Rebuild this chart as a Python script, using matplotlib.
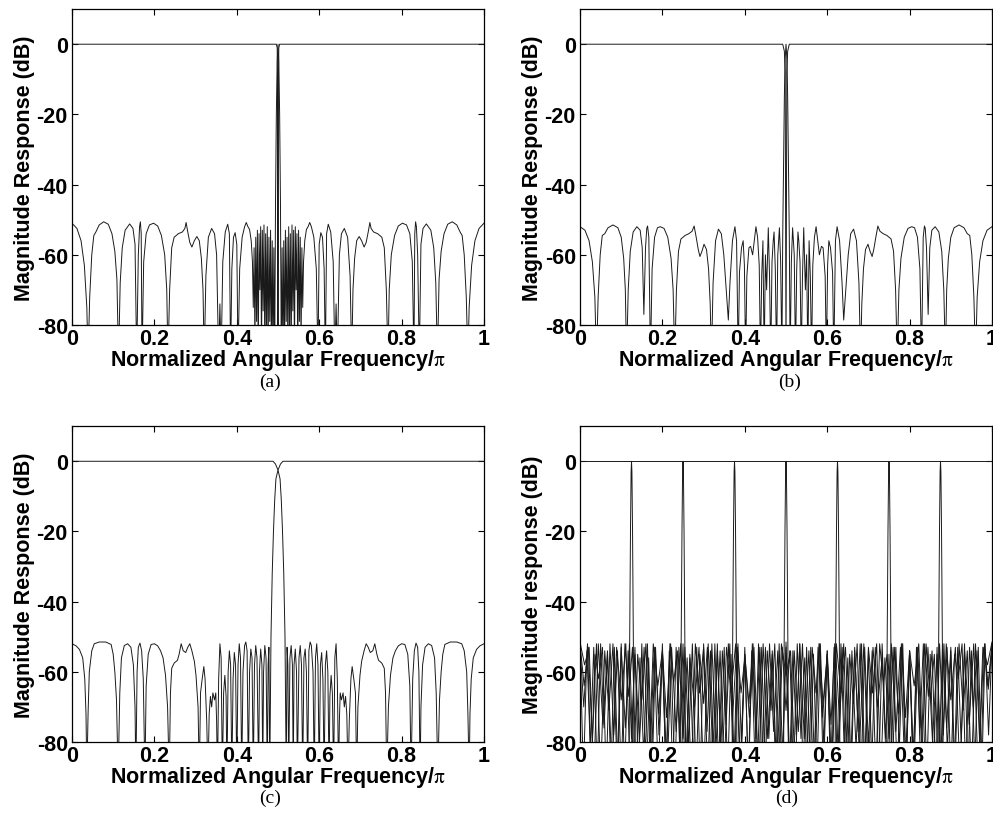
import matplotlib
matplotlib.use('Agg')
import matplotlib.pyplot as plt
import numpy as np

plt.rcParams['font.family'] = ['Liberation Sans', 'DejaVu Sans']
plt.rcParams['mathtext.fontset'] = 'stix'
plt.rcParams['axes.unicode_minus'] = False

# ---- panel (a): narrow band-pass at 0.5 pi and its complementary notch ----
f_a = [0.000, 0.012, 0.022, 0.030, 0.036, 0.039, 0.043, 0.048, 0.053, 0.058,
       0.066, 0.077, 0.088, 0.097, 0.104, 0.109, 0.113, 0.117, 0.122, 0.129,
       0.140, 0.148, 0.153, 0.157, 0.161, 0.164, 0.166, 0.168, 0.170, 0.174,
       0.180, 0.188, 0.198, 0.208, 0.217, 0.225, 0.230, 0.233, 0.237, 0.242,
       0.248, 0.258, 0.268, 0.274, 0.277, 0.281, 0.286, 0.291, 0.297, 0.303,
       0.309, 0.314, 0.318, 0.321, 0.325, 0.331, 0.339, 0.346, 0.351, 0.356,
       0.359, 0.362, 0.366, 0.372, 0.378, 0.382, 0.385, 0.388, 0.392, 0.396,
       0.400, 0.403, 0.407, 0.413, 0.419, 0.423, 0.427, 0.431, 0.435, 0.438,
       0.440, 0.442, 0.444, 0.446, 0.448, 0.450, 0.452, 0.454, 0.456, 0.458,
       0.460, 0.462, 0.464, 0.466, 0.468, 0.470, 0.472, 0.474, 0.476, 0.478,
       0.480, 0.482, 0.484, 0.486, 0.488, 0.490, 0.492, 0.494, 0.496, 0.498,
       0.500,
       0.502, 0.504, 0.506, 0.508, 0.510, 0.512, 0.514, 0.516, 0.518, 0.520,
       0.522, 0.524, 0.526, 0.528, 0.530, 0.532, 0.534, 0.536, 0.538, 0.540,
       0.542, 0.544, 0.546, 0.548, 0.550, 0.552, 0.554, 0.556, 0.558, 0.560,
       0.562, 0.565, 0.569, 0.573, 0.577, 0.581, 0.587, 0.593, 0.597, 0.600,
       0.604, 0.608, 0.612, 0.615, 0.618, 0.622, 0.628, 0.634, 0.638, 0.641,
       0.644, 0.649, 0.654, 0.661, 0.669, 0.675, 0.679, 0.682, 0.686, 0.691,
       0.697, 0.703, 0.709, 0.714, 0.719, 0.723, 0.726, 0.732, 0.742, 0.752,
       0.758, 0.763, 0.767, 0.770, 0.775, 0.783, 0.792, 0.802, 0.812, 0.820,
       0.826, 0.830, 0.832, 0.834, 0.836, 0.839, 0.843, 0.847, 0.852, 0.860,
       0.871, 0.878, 0.883, 0.887, 0.891, 0.896, 0.903, 0.912, 0.923, 0.934,
       0.942, 0.947, 0.952, 0.957, 0.961, 0.964, 0.970, 0.978, 0.988, 1.000]
db_a = [-51.0, -52.5, -56, -63, -75, -90, -72, -60, -54.5, -53.5,
        -51.5, -50.6, -51.3, -54, -59, -67, -90, -68, -58, -53,
        -51.2, -52.5, -57, -90, -60, -52, -50.6, -54, -90, -62,
        -54, -51.5, -51.0, -51.8, -54.5, -60, -70, -90, -70, -58,
        -55, -54, -53.5, -52.5, -50.8, -53.5, -56.5, -57.8, -56, -54.8,
        -56, -61, -70, -90, -66, -55, -52.5, -54, -60, -90,
        -74, -90, -62, -53.5, -51.3, -54, -90, -64, -55, -53.7,
        -57, -90, -64, -55, -52, -50.8, -52, -52.8, -56, -62,
        -75, -58, -86, -55, -79, -53, -90, -54, -70, -52,
        -88, -53, -76, -51.5, -90, -54, -82, -52, -90, -55,
        -79, -53, -90, -56, -90, -58, -90, -45, -20, -5,
        0,
        -5, -20, -45, -90, -58, -90, -56, -90, -53, -79,
        -55, -90, -52, -82, -54, -90, -51.5, -76, -53, -88,
        -52, -70, -54, -90, -53, -79, -55, -86, -58, -75,
        -62, -56, -52.8, -52, -50.8, -52, -55, -64, -90, -57,
        -53.7, -55, -64, -90, -54, -51.3, -53.5, -62, -90, -74,
        -90, -60, -54, -52.5, -55, -66, -90, -70, -61, -56,
        -54.8, -56, -57.8, -56.5, -53.5, -50.8, -52.5, -53.5, -54, -55,
        -58, -70, -90, -70, -60, -54.5, -51.8, -51.0, -51.5, -54,
        -62, -90, -54, -50.6, -52, -60, -90, -57, -52.5, -51.2,
        -53, -58, -68, -90, -67, -59, -54, -51.3, -50.6, -51.5,
        -53.5, -54.5, -60, -72, -90, -75, -63, -56, -52.5, -51.0]
notch_f_a = [0.0, 0.496, 0.498, 0.499, 0.500, 0.501, 0.502, 0.504, 1.0]
notch_db_a = [0, 0, -1, -10, -90, -10, -1, 0, 0]

# ---- panel (b): wider band-pass ----
f_b = [0.000, 0.012, 0.022, 0.030, 0.036, 0.040, 0.044, 0.049, 0.054, 0.060,
       0.068, 0.080, 0.092, 0.100, 0.106, 0.110, 0.113, 0.117, 0.122, 0.129,
       0.138, 0.146, 0.151, 0.155, 0.159, 0.162, 0.164, 0.167, 0.171, 0.175,
       0.181, 0.188, 0.195, 0.204, 0.213, 0.221, 0.226, 0.230, 0.234, 0.239,
       0.245, 0.255, 0.264, 0.272, 0.277, 0.282, 0.287, 0.291, 0.296, 0.301,
       0.307, 0.312, 0.316, 0.319, 0.323, 0.329, 0.336, 0.343, 0.349, 0.355,
       0.360, 0.364, 0.370, 0.376, 0.380, 0.384, 0.387, 0.392, 0.396, 0.399,
       0.402, 0.405, 0.410, 0.414, 0.419, 0.423, 0.427, 0.431, 0.435, 0.438,
       0.441, 0.444, 0.447, 0.450, 0.453, 0.457, 0.460, 0.463, 0.466, 0.469,
       0.471, 0.474, 0.477, 0.480, 0.484, 0.487, 0.490, 0.492, 0.494, 0.496,
       0.498, 0.500, 0.502, 0.504, 0.506, 0.508, 0.510,
       0.513, 0.516, 0.520, 0.523, 0.526, 0.529, 0.531, 0.534, 0.537, 0.540,
       0.543, 0.547, 0.550, 0.553, 0.556, 0.559, 0.562, 0.565, 0.569, 0.573,
       0.577, 0.581, 0.586, 0.590, 0.595, 0.598, 0.601, 0.604, 0.608, 0.613,
       0.616, 0.620, 0.624, 0.630, 0.636, 0.640, 0.645, 0.651, 0.657, 0.664,
       0.671, 0.677, 0.681, 0.684, 0.688, 0.693, 0.699, 0.704, 0.709, 0.713,
       0.718, 0.723, 0.728, 0.736, 0.745, 0.755, 0.761, 0.766, 0.770, 0.774,
       0.779, 0.787, 0.796, 0.805, 0.812, 0.819, 0.825, 0.829, 0.833, 0.836,
       0.838, 0.841, 0.845, 0.849, 0.854, 0.862, 0.871, 0.878, 0.883, 0.887,
       0.890, 0.894, 0.900, 0.908, 0.920, 0.932, 0.940, 0.946, 0.951, 0.956,
       0.960, 0.964, 0.970, 0.978, 0.988, 1.000]
db_b = [-52, -53, -56, -62, -72, -90, -72, -60, -54.5, -54,
        -52.3, -51.5, -52.3, -55, -61, -70, -90, -70, -59, -53.5,
        -52, -53, -58, -77, -58, -52.5, -51.8, -55, -90, -64,
        -55, -52.3, -52, -52.5, -55, -61, -70, -90, -70, -59,
        -55.5, -54.5, -54, -53.3, -51.8, -55, -58.5, -60.5, -59, -57,
        -58.5, -64, -74, -90, -68, -56, -52.7, -54, -60, -70,
        -78.6, -68, -56, -52, -56, -90, -65, -58, -56, -63,
        -90, -66, -58, -57.6, -60, -56, -52, -55, -63, -90,
        -66, -56, -90, -60, -70, -52.3, -66, -90, -62, -56,
        -53.5, -64, -90, -60, -52.3, -62, -90, -55, -35, -15,
        -4, 0, -4, -15, -35, -55, -90,
        -62, -52.3, -60, -90, -64, -53.5, -56, -62, -90, -66,
        -52.3, -70, -60, -90, -56, -66, -90, -63, -55, -52,
        -56, -60, -57.6, -58, -66, -90, -63, -56, -58, -65,
        -90, -56, -52, -56, -68, -78.6, -70, -60, -54, -52.7,
        -56, -68, -90, -74, -64, -58.5, -57, -59, -60.5, -58.5,
        -55, -51.8, -53.3, -54, -54.5, -55.5, -59, -70, -90, -70,
        -61, -55, -52.5, -52, -52.3, -55, -64, -90, -55, -51.8,
        -52.5, -58, -77, -58, -53, -52, -53.5, -59, -70, -90,
        -70, -61, -55, -52.3, -51.5, -52.3, -54, -54.5, -60, -72,
        -90, -72, -62, -56, -53, -52]
notch_f_b = [0.0, 0.492, 0.496, 0.498, 0.500, 0.502, 0.504, 0.508, 1.0]
notch_db_b = [0, 0, -2, -8, -90, -8, -2, 0, 0]

# ---- panel (c): widest band-pass, crossing the notch near -3 dB ----
f_c = [0.000, 0.010, 0.018, 0.026, 0.031, 0.034, 0.036, 0.039, 0.042, 0.048,
       0.054, 0.066, 0.082, 0.095, 0.100, 0.104, 0.108, 0.112, 0.116, 0.120,
       0.127, 0.135, 0.143, 0.149, 0.153, 0.155, 0.158, 0.161, 0.165, 0.169,
       0.173, 0.177, 0.180, 0.185, 0.192, 0.200, 0.208, 0.215, 0.221, 0.227,
       0.232, 0.236, 0.239, 0.242, 0.248, 0.256, 0.260, 0.265, 0.270, 0.276,
       0.281, 0.286, 0.291, 0.297, 0.301, 0.306, 0.309, 0.312, 0.316, 0.320,
       0.323, 0.327, 0.330, 0.333, 0.336, 0.339, 0.342, 0.346, 0.349, 0.351,
       0.353, 0.356, 0.359, 0.362, 0.365, 0.368, 0.371, 0.374, 0.376, 0.379,
       0.382, 0.385, 0.388, 0.391, 0.394, 0.397, 0.400, 0.403, 0.406, 0.409,
       0.412, 0.415, 0.419, 0.422, 0.425, 0.428, 0.431, 0.434, 0.437, 0.440,
       0.443, 0.446, 0.449, 0.453, 0.455, 0.458, 0.461, 0.463, 0.465, 0.468,
       0.471, 0.474, 0.476, 0.478, 0.480,
       0.483, 0.486, 0.489, 0.492, 0.495, 0.500, 0.505, 0.508, 0.511, 0.514,
       0.517, 0.520,
       0.522, 0.524, 0.526, 0.529, 0.532, 0.535, 0.537, 0.539, 0.542, 0.545,
       0.547, 0.551, 0.554, 0.557, 0.560, 0.563, 0.566, 0.569, 0.572, 0.575,
       0.578, 0.581, 0.585, 0.588, 0.591, 0.594, 0.597, 0.600, 0.603, 0.606,
       0.609, 0.612, 0.615, 0.618, 0.621, 0.624, 0.626, 0.629, 0.632, 0.635,
       0.638, 0.641, 0.644, 0.647, 0.649, 0.651, 0.654, 0.658, 0.661, 0.664,
       0.667, 0.670, 0.673, 0.677, 0.680, 0.684, 0.688, 0.691, 0.694, 0.699,
       0.703, 0.709, 0.714, 0.719, 0.724, 0.730, 0.735, 0.740, 0.744, 0.752,
       0.758, 0.761, 0.764, 0.768, 0.773, 0.779, 0.785, 0.792, 0.800, 0.808,
       0.815, 0.820, 0.823, 0.827, 0.831, 0.835, 0.839, 0.842, 0.845, 0.847,
       0.851, 0.857, 0.865, 0.873, 0.880, 0.884, 0.888, 0.892, 0.896, 0.900,
       0.905, 0.918, 0.934, 0.946, 0.952, 0.958, 0.961, 0.964, 0.966, 0.969,
       0.974, 0.982, 0.990, 1.000]
db_c = [-52, -52.6, -53.6, -56, -62, -72, -90, -72, -60, -54,
        -52, -51.5, -51.5, -52.2, -55, -60, -68, -90, -66, -56,
        -52.5, -52, -53, -58, -70, -90, -60, -53, -51.8, -54,
        -62, -90, -64, -55, -52.2, -52, -52.6, -54, -56, -61,
        -70, -90, -66, -59, -57.5, -56.7, -55, -52, -54, -54.5,
        -53, -52, -54, -57, -61, -70, -90, -66, -62, -58.5,
        -62, -74, -90, -72, -67, -70, -66, -68, -66, -74,
        -90, -62, -52, -56, -90, -66, -61, -67, -90, -60,
        -54, -58, -90, -62, -54.5, -58, -90, -58, -52, -56,
        -90, -60, -52.5, -51.5, -54, -90, -60, -53.5, -56, -90,
        -58, -52.5, -56, -90, -60, -53.5, -58, -90, -60, -52.5,
        -56, -90, -58, -53, -90,
        -50, -32, -20, -11, -5, -2.5, -5, -11, -20, -32,
        -50, -90,
        -53, -58, -90, -56, -52.5, -58, -90, -58, -53.5, -60,
        -90, -56, -52.5, -58, -90, -56, -53.5, -60, -90, -54,
        -51.5, -52.5, -60, -90, -56, -52, -58, -90, -58, -54.5,
        -62, -90, -58, -54, -60, -90, -67, -61, -66, -90,
        -56, -52, -62, -90, -74, -66, -68, -66, -70, -67,
        -72, -90, -74, -62, -58.5, -62, -66, -90, -70, -61,
        -57, -54, -52, -53, -54.5, -54, -52, -55, -56.7, -57.5,
        -59, -66, -90, -70, -61, -56, -54, -52.6, -52, -52.2,
        -55, -64, -90, -62, -54, -51.8, -53, -60, -90, -70,
        -58, -53, -52, -52.5, -56, -66, -90, -68, -60, -55,
        -52.2, -51.5, -51.5, -52, -54, -60, -72, -90, -72, -62,
        -56, -53.6, -52.6, -52]
notch_f_c = [0.0, 0.488, 0.494, 0.500, 0.506, 0.512, 1.0]
notch_db_c = [0, 0, -0.8, -2.5, -0.8, 0, 0]

# ---- panel (d): 8-channel bank, pass-band peaks at k/8 ----
peak_d_centers = [0.125, 0.25, 0.375, 0.5, 0.625, 0.75, 0.875]
peak_d_offset = [-0.006, -0.0045, -0.0025, -0.001, 0.0, 0.001, 0.0025, 0.0045, 0.006]
peak_d_db = [-90, -52, -20, -3, 0, -3, -20, -52, -90]
# overlapping stop-band ripple of the channels (evenly sampled over 0..1)
stop_d1 = [-52, -64, -53, -80, -52, -90, -54, -71, -52, -88,
           -53, -76, -52, -90, -55, -68, -52, -85, -53, -90,
           -54, -73, -52, -90, -53, -79, -56, -90, -52, -66,
           -53, -90, -52, -82, -54, -90, -52, -74, -53, -90,
           -55, -69, -52, -90, -53, -86, -52, -77, -54, -90,
           -51.5, -90, -54, -77, -52, -86, -53, -90, -52, -69,
           -55, -90, -53, -74, -52, -90, -54, -82, -52, -90,
           -53, -66, -52, -90, -56, -79, -53, -90, -52, -73,
           -54, -90, -53, -85, -52, -68, -55, -90, -52, -76,
           -53, -88, -52, -71, -54, -90, -52, -80, -53, -64, -52]
stop_d2 = [-53, -70, -52, -90, -55, -62, -53, -90, -52, -78,
           -54, -90, -52, -67, -53, -90, -56, -84, -52, -90,
           -53, -72, -55, -90, -52, -63, -54, -90, -53, -81,
           -52, -90, -55, -69, -53, -90, -52, -87, -54, -75,
           -52, -90, -53, -66, -56, -90, -52, -79, -53, -90,
           -54, -71, -52, -90, -53, -71, -54, -90, -52, -79,
           -56, -90, -53, -66, -52, -90, -54, -75, -52, -87,
           -53, -90, -55, -69, -52, -90, -53, -81, -54, -90,
           -52, -63, -55, -90, -53, -72, -52, -90, -56, -84,
           -53, -90, -52, -67, -54, -90, -52, -78, -53, -90,
           -55, -62, -52, -90, -53, -70, -54, -88, -52, -65, -53]
stop_d3 = [-51.5, -58, -53, -90, -52, -75, -54, -90, -53, -68,
           -52, -90, -55, -80, -53, -90, -52, -64, -54, -90,
           -53, -77, -52, -90, -56, -70, -53, -90, -52, -83,
           -54, -90, -53, -66, -52, -90, -55, -73, -53, -90,
           -52, -79, -54, -90, -52, -61, -54, -90, -52, -79,
           -54, -90, -53, -73, -55, -90, -52, -66, -53, -90,
           -54, -83, -52, -90, -53, -70, -56, -90, -52, -77,
           -53, -90, -54, -64, -52, -90, -53, -80, -55, -90,
           -52, -68, -53, -90, -54, -75, -52, -90, -53, -58, -51.5]
stop_d4 = [-52, -90, -54, -82, -53, -90, -52, -76, -55, -90,
           -53, -88, -52, -90, -54, -79, -53, -90, -52, -84,
           -56, -90, -53, -78, -52, -90, -54, -90, -53, -81,
           -52, -90, -55, -86, -53, -90, -52, -77, -54, -90,
           -52, -83, -53, -90, -55, -90, -52, -80, -53, -90,
           -54, -87, -52, -90, -53, -79, -55, -90, -52, -85,
           -53, -90, -54, -78, -52, -90, -53, -88, -55, -90,
           -52, -81, -54, -90, -53, -90, -52, -84, -56, -90,
           -53, -77, -52, -90, -54, -86, -53, -90, -52, -79,
           -55, -90, -53, -82, -52, -90, -54, -90, -53, -76,
           -52, -90, -55, -88, -53, -90, -52, -83, -54, -90,
           -53, -80, -52, -90, -54, -87, -53, -90, -52, -78, -52]
notch_f_d = [0.0, 1.0]
notch_db_d = [0, 0]

xticks = [0, 0.2, 0.4, 0.6, 0.8, 1]
xtick_labels = ['0', '0.2', '0.4', '0.6', '0.8', '1']
yticks = [-80, -60, -40, -20, 0]

LC = '#1a1a1a'
LW = 0.7
fs = 15.5


def style(ax, ylabel):
  ax.set_xlim(0, 1)
  ax.set_ylim(-80, 10)
  ax.set_xticks(xticks)
  ax.set_xticklabels(xtick_labels)
  ax.set_yticks(yticks)
  ax.tick_params(direction='in', length=4, width=0.8, top=True, right=True,
                 labelsize=fs, pad=3)
  ax.tick_params(axis='x', pad=2)
  for lab in ax.get_xticklabels() + ax.get_yticklabels():
    lab.set_fontweight('bold')
  for sp in ax.spines.values():
    sp.set_linewidth(0.9)
  ax.set_xlabel(r'Normalized Angular Frequency/$\mathrm{\pi}$', fontsize=fs,
                fontweight='bold', labelpad=-1)
  ax.set_ylabel(ylabel, fontsize=fs, fontweight='bold', labelpad=1)


fig = plt.figure(figsize=(9.93, 8.29), dpi=100)
w = 0.4149
h = 0.381
ax_a = fig.add_axes([0.0725, 0.6068, w, h])
ax_b = fig.add_axes([0.5841, 0.6068, w, h])
ax_c = fig.add_axes([0.0725, 0.1037, w, h])
ax_d = fig.add_axes([0.5841, 0.1037, w, h])

ax_a.plot(notch_f_a, notch_db_a, color=LC, lw=LW)
ax_a.plot(f_a, db_a, color=LC, lw=LW)
ax_b.plot(notch_f_b, notch_db_b, color=LC, lw=LW)
ax_b.plot(f_b, db_b, color=LC, lw=LW)
ax_c.plot(notch_f_c, notch_db_c, color=LC, lw=LW)
ax_c.plot(f_c, db_c, color=LC, lw=LW)

ax_d.plot(notch_f_d, notch_db_d, color=LC, lw=LW)
for s in [stop_d1, stop_d2, stop_d3, stop_d4]:
  ax_d.plot(np.linspace(0, 1, len(s)), s, color=LC, lw=0.7)
for c in peak_d_centers:
  ax_d.plot([c + o for o in peak_d_offset], peak_d_db, color=LC, lw=LW)

style(ax_a, 'Magnitude Response (dB)')
style(ax_b, 'Magnitude Response (dB)')
style(ax_c, 'Magnitude Response (dB)')
style(ax_d, 'Magnitude response (dB)')

for lab, x, y in [('(a)', 0.272, 0.539), ('(b)', 0.7956, 0.539),
                  ('(c)', 0.272, 0.037), ('(d)', 0.7925, 0.037)]:
  fig.text(x, y, lab, ha='center', va='center', fontsize=14,
           family='Liberation Serif')

plt.savefig('out.png', dpi=100)
